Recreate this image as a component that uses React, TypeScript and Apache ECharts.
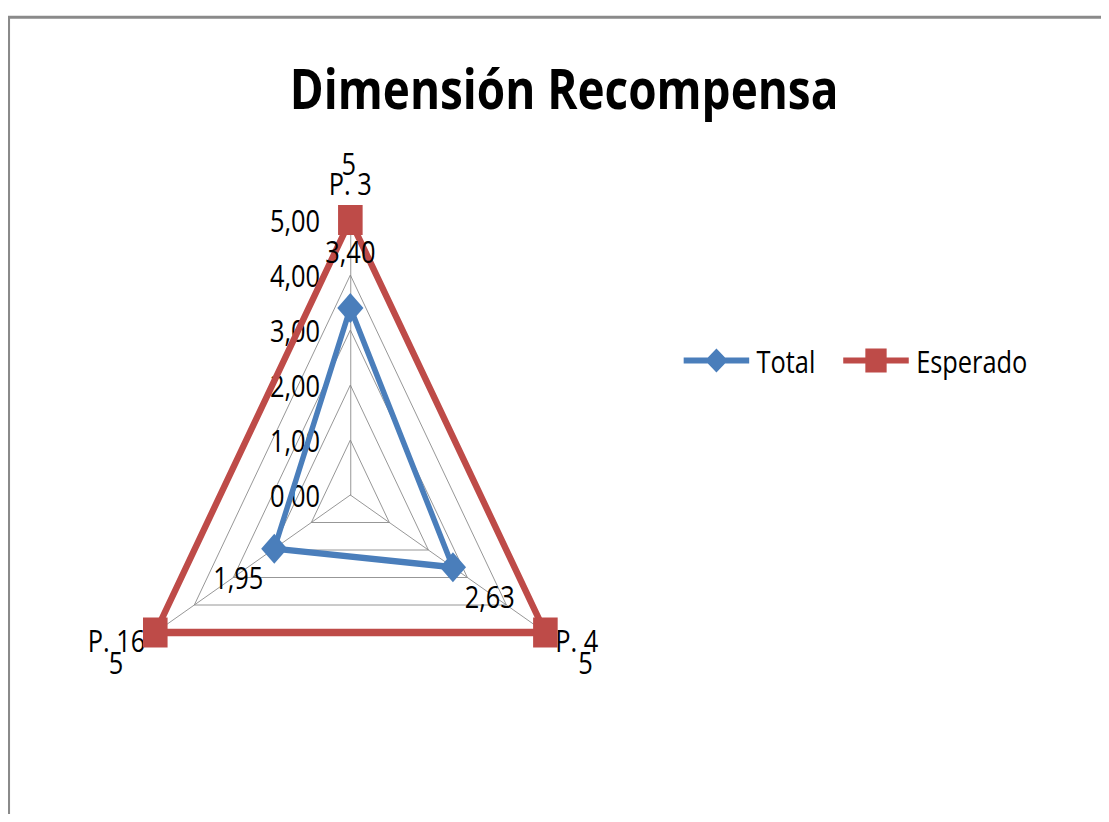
import { useEffect, useRef } from 'react';
import * as echarts from 'echarts';

// ---- data ----
const indicatorNames = ['P. 3', 'P. 16', 'P. 4'];
const axisMax = 5;
const splitCount = 5;
const seriesNames = ['Total', 'Esperado'];
const totalValues = [3.4, 1.95, 2.63];
const expectedValues = [5, 5, 5];

// ---- layout / style ----
const SQUEEZE = 0.819; // the whole figure is drawn narrower than tall
const VIEW_W = 1101;
const VIEW_H = 814;
const CHART_W = 1358;
const FONT = "'Open Sans', 'Noto Sans', sans-serif";
const BLUE = '#4a7ebb';
const RED = '#be4b48';
const GRID = '#8c8c8c';
const TEXT_SIZE = 31;

// where each vertex label sits relative to its marker (outward from the centre)
const totalLabelOffsets = [
  [0, -57],
  [-44, 28],
  [45, 29],
];
const expectedLabelOffsets = [
  [-2, -57],
  [-48, 29],
  [49, 29],
];

// legend icons: a line with the series marker on it (80 x 24 box)
const TOTAL_ICON = 'path://M0,9 L80,9 L80,15 L0,15 Z M40,0 L54,12 L40,24 L26,12 Z';
const EXPECTED_ICON = 'path://M0,9 L80,9 L80,15 L0,15 Z M27,0 L53,0 L53,24 L27,24 Z';

const commaDecimals = (v: number) => v.toFixed(2).replace('.', ',');

const labelText = {
  color: '#000',
  fontSize: TEXT_SIZE,
  fontFamily: FONT,
};

// One invisible item per vertex, so that each value label can be placed on its own.
function vertexLabelItems(
  name: string,
  values: number[],
  offsets: number[][],
  formatter: (p: any) => string
) {
  return values.map((v, i) => ({
    name: `${name} · ${indicatorNames[i]}`,
    value: values.map((_, j) => (j === i ? v : '-')),
    symbol: 'circle',
    symbolSize: 2,
    itemStyle: { color: 'rgba(0,0,0,0)' },
    lineStyle: { width: 0, opacity: 0 },
    label: {
      show: true,
      position: 'inside',
      offset: offsets[i],
      formatter,
      ...labelText,
    },
  }));
}

export default function App() {
  const ref = useRef<HTMLDivElement>(null);

  useEffect(() => {
    if (!ref.current) return;
    const chart = echarts.init(ref.current, undefined, { renderer: 'svg' });

    const fmtTotal = (p: any) => (typeof p.value === 'number' ? commaDecimals(p.value) : '');
    const fmtExpected = (p: any) => (typeof p.value === 'number' ? String(p.value) : '');

    chart.setOption({
      animation: false,
      backgroundColor: '#fff',
      title: {
        text: 'Dimensión Recompensa',
        left: 'center',
        top: 46,
        textStyle: {
          fontFamily: FONT,
          fontWeight: 'bold',
          fontSize: 56,
          color: '#000',
        },
      },
      legend: {
        data: [
          { name: seriesNames[0], icon: TOTAL_ICON },
          { name: seriesNames[1], icon: EXPECTED_ICON },
        ],
        left: 820,
        top: 332,
        itemWidth: 80,
        itemHeight: 24,
        itemGap: 34,
        selectedMode: false,
        itemStyle: { borderWidth: 0 },
        textStyle: { ...labelText, padding: [0, 0, 0, 4] },
      },
      graphic: [
        {
          type: 'rect',
          silent: true,
          z: -1,
          shape: { x: 1, y: 9.3, width: 3000, height: 3000 },
          style: { fill: 'none', stroke: '#8a8a8a', lineWidth: 3 },
        },
      ],
      radar: {
        center: [418, 487],
        radius: 275,
        startAngle: 90,
        splitNumber: splitCount,
        shape: 'polygon',
        nameGap: 14,
        axisName: {
          ...labelText,
          padding: [0, 0, 8, 0],
        },
        indicator: indicatorNames.map((name, i) =>
          i === 0
            ? { name, min: 0, max: axisMax, axisLabel: { show: true } }
            : { name, min: 0, max: axisMax }
        ),
        axisLine: { lineStyle: { color: GRID, width: 1 } },
        splitLine: { lineStyle: { color: GRID, width: 1 } },
        splitArea: { show: false },
        axisTick: { show: false },
        axisLabel: {
          show: false,
          margin: 37,
          formatter: (v: number) => commaDecimals(v),
          ...labelText,
        },
      },
      series: [
        {
          type: 'radar',
          silent: true,
          data: [
            {
              name: seriesNames[1],
              value: expectedValues,
              symbol: 'rect',
              symbolSize: 30,
              itemStyle: { color: RED },
              lineStyle: { color: RED, width: 7.5 },
            },
            {
              name: seriesNames[0],
              value: totalValues,
              symbol: 'diamond',
              symbolSize: [32, 30],
              itemStyle: { color: BLUE },
              lineStyle: { color: BLUE, width: 6.5 },
            },
            ...vertexLabelItems(seriesNames[1], expectedValues, expectedLabelOffsets, fmtExpected),
            ...vertexLabelItems(seriesNames[0], totalValues, totalLabelOffsets, fmtTotal),
          ],
        },
      ],
    });

    return () => chart.dispose();
  }, []);

  return (
    <div
      style={{
        width: VIEW_W,
        height: VIEW_H,
        overflow: 'hidden',
        position: 'relative',
        marginBottom: -8,
        background: '#fff',
      }}
    >
      <div
        ref={ref}
        style={{
          width: CHART_W,
          height: VIEW_H,
          transform: `scaleX(${SQUEEZE})`,
          transformOrigin: '0 0',
        }}
      />
    </div>
  );
}
